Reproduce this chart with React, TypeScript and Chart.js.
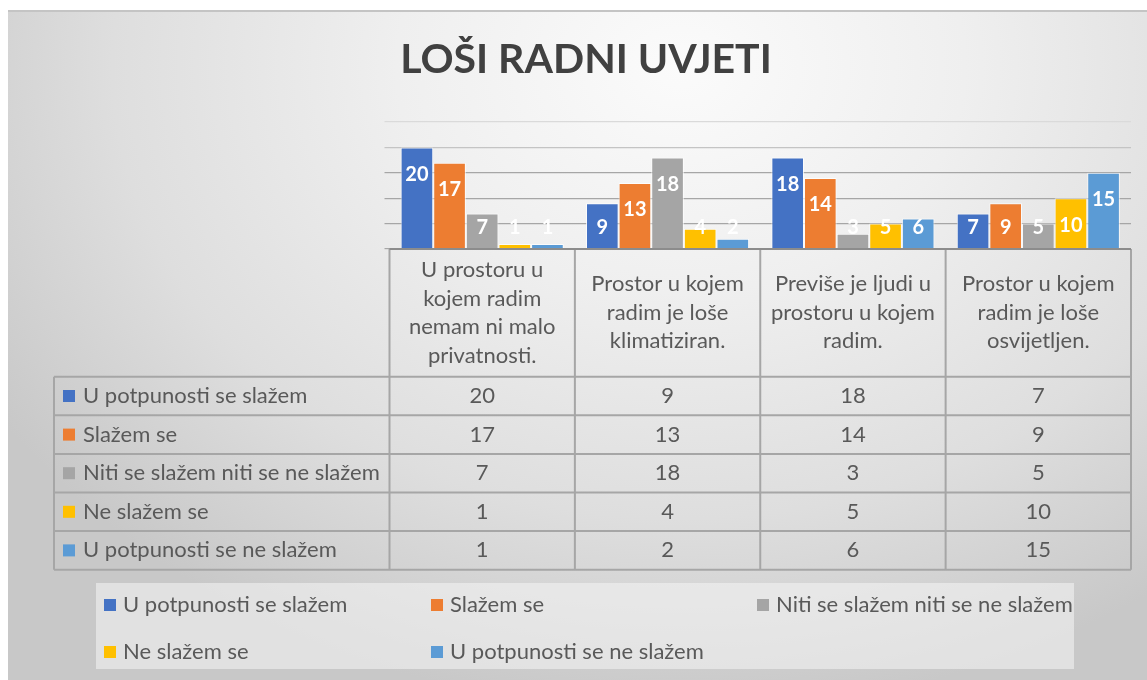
import React, { useEffect, useRef } from "react";
import { Chart, registerables } from "chart.js";

Chart.register(...registerables);

// ---------- data ----------
const chartTitle = "LOŠI RADNI UVJETI";
const categoryLines: string[][] = [
  ["U prostoru u", "kojem radim", "nemam ni malo", "privatnosti."],
  ["Prostor u kojem", "radim je loše", "klimatiziran."],
  ["Previše je ljudi u", "prostoru u kojem", "radim."],
  ["Prostor u kojem", "radim je loše", "osvijetljen."],
];
const seriesNames = [
  "U potpunosti se slažem",
  "Slažem se",
  "Niti se slažem niti se ne slažem",
  "Ne slažem se",
  "U potpunosti se ne slažem",
];
const potpunoSeSlazem = [20, 9, 18, 7];
const slazemSe = [17, 13, 14, 9];
const nitiNiti = [7, 18, 3, 5];
const neSlazemSe = [1, 4, 5, 10];
const potpunoNeSlazem = [1, 2, 6, 15];
const seriesValues = [potpunoSeSlazem, slazemSe, nitiNiti, neSlazemSe, potpunoNeSlazem];
const seriesColors = ["#4472C4", "#ED7D31", "#A5A5A5", "#FFC000", "#5B9BD5"];
const yMax = 25;
const yStep = 5;

const FONT = "Lato, 'Open Sans', sans-serif";
const TEXT = "#595959";

const overlayPlugin = {
  id: "overlay",
  afterDatasetsDraw(chart: any) {
    const ctx = chart.ctx;
    ctx.save();
    ctx.font = `bold 20px ${FONT}`;
    ctx.fillStyle = "#ffffff";
    ctx.textAlign = "center";
    ctx.textBaseline = "middle";
    chart.data.datasets.forEach((ds: any, di: number) => {
      const meta = chart.getDatasetMeta(di);
      meta.data.forEach((el: any, i: number) => {
        const p = el.getProps(["x", "y", "base"], true);
        const cy = Math.min(p.y + 26, p.base - 22);
        ctx.fillText(String(ds.data[i]), p.x, cy + 1);
      });
    });
    ctx.restore();
  },
  afterDraw(chart: any) {
    const ctx = chart.ctx;
    const area = chart.chartArea;
    const nCat = categoryLines.length;
    const colW = (area.right - area.left) / nCat;
    const tableLeft = 54;
    const headerTop = area.bottom;
    const headerBottom = 376.7;
    const rowH = 38.6;
    const nRows = seriesNames.length;
    const tableBottom = headerBottom + rowH * nRows;

    ctx.save();
    // title
    ctx.font = `bold 41px ${FONT}`;
    ctx.fillStyle = "#404040";
    ctx.textAlign = "center";
    ctx.textBaseline = "alphabetic";
    ctx.fillText(chartTitle, 586, 73);

    // table lines
    ctx.strokeStyle = "#a6a6a6";
    ctx.lineWidth = 2;
    ctx.beginPath();
    for (let r = 0; r <= nRows; r++) {
      const y = headerBottom + r * rowH;
      ctx.moveTo(tableLeft, y);
      ctx.lineTo(area.right, y);
    }
    for (let c = 0; c <= nCat; c++) {
      const x = area.left + c * colW;
      ctx.moveTo(x, headerTop);
      ctx.lineTo(x, tableBottom);
    }
    ctx.moveTo(tableLeft, headerBottom);
    ctx.lineTo(tableLeft, tableBottom);
    ctx.stroke();
    // axis line
    ctx.strokeStyle = "#8c8c8c";
    ctx.beginPath();
    ctx.moveTo(area.left, headerTop);
    ctx.lineTo(area.right, headerTop);
    ctx.stroke();

    // header text
    ctx.font = `22px ${FONT}`;
    ctx.fillStyle = TEXT;
    ctx.textAlign = "center";
    ctx.textBaseline = "middle";
    const lh = 28.5;
    categoryLines.forEach((lines, c) => {
      const cx = area.left + (c + 0.5) * colW;
      const cy = (headerTop + headerBottom) / 2;
      const y0 = cy - ((lines.length - 1) * lh) / 2;
      lines.forEach((t, k) => ctx.fillText(t, cx, y0 + k * lh));
    });

    // data cells and row headers
    seriesNames.forEach((name, r) => {
      const cy = headerBottom + (r + 0.5) * rowH;
      ctx.textAlign = "center";
      ctx.fillStyle = TEXT;
      seriesValues[r].forEach((v, c) => {
        const cx = area.left + (c + 0.5) * colW;
        ctx.fillText(String(v), cx, cy);
      });
      ctx.fillStyle = seriesColors[r];
      ctx.fillRect(63, cy - 6, 12, 12);
      ctx.fillStyle = TEXT;
      ctx.textAlign = "left";
      ctx.fillText(name, 83, cy);
    });

    // legend
    ctx.fillStyle = "rgba(245,245,245,0.55)";
    ctx.fillRect(96, 583, 978, 86);
    const legendCols = [104, 431, 757];
    const legendRows = [605, 652];
    seriesNames.forEach((name, i) => {
      const x = legendCols[i % 3];
      const y = legendRows[Math.floor(i / 3)];
      ctx.fillStyle = seriesColors[i];
      ctx.fillRect(x, y - 6, 12, 12);
      ctx.fillStyle = TEXT;
      ctx.textAlign = "left";
      ctx.fillText(name, x + 19, y);
    });
    ctx.restore();
  },
};

export default function App() {
  const canvasRef = useRef<HTMLCanvasElement | null>(null);

  useEffect(() => {
    if (!canvasRef.current) return;
    const chart = new Chart(canvasRef.current, {
      type: "bar",
      data: {
        labels: categoryLines.map((l) => l.join(" ")),
        datasets: seriesNames.map((name, i) => ({
          label: name,
          data: seriesValues[i],
          backgroundColor: seriesColors[i],
          borderColor: "rgba(255,255,255,0.75)",
          borderWidth: 1,
          barPercentage: 1,
          categoryPercentage: 0.88,
        })),
      },
      options: {
        responsive: false,
        animation: false,
        layout: { padding: { left: 384.5, right: 16, top: 122, bottom: 431 } },
        plugins: {
          legend: { display: false },
          title: { display: false },
          tooltip: { enabled: false },
        },
        scales: {
          x: { display: false },
          y: {
            display: true,
            min: 0,
            max: yMax,
            ticks: { display: false, stepSize: yStep },
            border: { display: false },
            grid: {
              drawTicks: true,
              tickLength: 5,
              lineWidth: 1.2,
              color: (c: any) =>
                c.tick && c.tick.value === 25
                  ? "#dadada"
                  : c.tick && c.tick.value === 20
                  ? "#c4c4c4"
                  : "#a6a6a6",
            },
            afterFit: (s: any) => {
              s.width = 5;
            },
          },
        },
      },
      plugins: [overlayPlugin],
    });
    return () => chart.destroy();
  }, []);

  return (
    <div style={{ position: "fixed", left: 0, top: 0, width: 1147, height: 680, background: "#ffffff", overflow: "hidden" }}>
      <div
        style={{
          position: "absolute",
          left: 8,
          top: 10,
          width: 1160,
          height: 680,
          borderTop: "2px solid #c4c4c4",
          background:
            "radial-gradient(ellipse 70% 95% at 58% 8%, #fbfbfb 0%, #efefef 35%, #dedede 70%, #c8c8c8 100%)",
        }}
      />
      <canvas ref={canvasRef} width={1147} height={680} style={{ position: "absolute", left: 0, top: 0 }} />
    </div>
  );
}
